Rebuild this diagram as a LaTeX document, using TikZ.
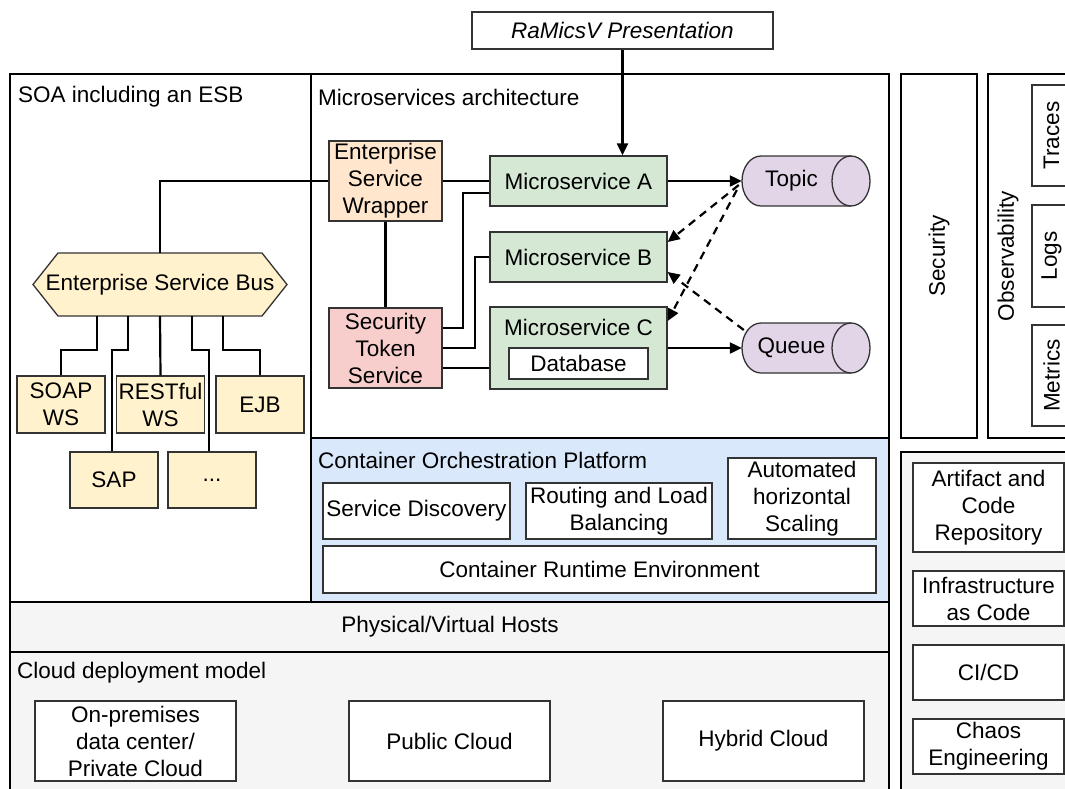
\documentclass[tikz,border=0pt]{standalone}
\usepackage{fontspec}
\setmainfont{Liberation Sans}
\usetikzlibrary{arrows.meta}

\definecolor{soaYellow}{HTML}{FFF2CC}
\definecolor{wrapOrange}{HTML}{FFE6CC}
\definecolor{stsRed}{HTML}{F8CECC}
\definecolor{msGreen}{HTML}{D5E8D4}
\definecolor{mqPurple}{HTML}{E1D5E7}
\definecolor{copBlue}{HTML}{DAE8FC}
\definecolor{layerGray}{HTML}{F5F5F5}

\begin{document}
\begin{tikzpicture}[x=1pt, y=-1pt, font=\fontsize{22.5}{27}\selectfont,
    layer/.style={line width=2pt, draw=black},
    lbl/.style={anchor=west, inner sep=0pt},
    item/.style={draw=black!80, line width=1.3pt, align=center, inner sep=1pt, fill=white},
    soaitem/.style={item, fill=soaYellow, minimum width=88pt, minimum height=57pt},
    msitem/.style={item, fill=msGreen, minimum width=177pt, minimum height=50pt},
    mqlbl/.style={inner sep=0pt, minimum width=99pt, minimum height=50pt},
    opsitem/.style={item, minimum width=151pt, minimum height=55pt},
    obsitem/.style={item, rotate=90, minimum width=101pt, minimum height=39pt},
    link/.style={line width=2.2pt},
    flow/.style={link, -{Triangle[length=12pt, width=11pt]}},
    event/.style={flow, dash pattern=on 8pt off 6pt}]
    \useasboundingbox (0,0) rectangle (1065,788);
    \clip (0,0) rectangle (1065,788);

    % =========================================================
    % LAYERS
    % =========================================================
    \draw[layer, fill=white] (10,74) rectangle (311,602);
    \draw[layer, fill=white] (311,74) rectangle (889,438);
    \draw[layer, fill=copBlue] (311,438) rectangle (889,602);
    \draw[layer, fill=layerGray] (10,602) rectangle (889,652);
    \draw[layer, fill=layerGray] (10,652) rectangle (889,800);
    \draw[layer, fill=white] (901,74) rectangle (977,438);
    \draw[layer, fill=white] (988,74) rectangle (1085,438);
    \draw[layer, fill=layerGray] (901,452) rectangle (1085,800);

    \node[lbl] (soalbl) at (18,97) {SOA including an ESB};
    \node[lbl] (mslbl) at (318,97) {Microservices architecture};
    \node[lbl] (coplbl) at (318,460) {Container Orchestration Platform};
    \node (hosts) at (450,627) {Physical/Virtual Hosts};
    \node[lbl] (cloudlbl) at (17,673) {Cloud deployment model};
    \node[rotate=90] (security) at (939,256) {Security};
    \node[rotate=90] (observ) at (1008,256) {Observability};

    % Presentation
    \node[item, minimum width=301pt, minimum height=37pt, font=\fontsize{22.5}{27}\selectfont\itshape] (title) at (622.5,30.5) {RaMicsV Presentation};

    % =========================================================
    % SOA
    % =========================================================
    \draw[item, fill=soaYellow] (33,284.5) -- (58,253) -- (262,253) -- (287,284.5) -- (262,316) -- (58,316) -- cycle;
    \node[inner sep=0pt, minimum width=254pt, minimum height=63pt] (esb) at (160,284.5) {Enterprise Service Bus};

    \node[soaitem] (soap) at (61,404.5) {SOAP\\WS};
    \node[soaitem] (rest) at (160.5,404.5) {RESTful\\WS};
    \node[soaitem] (ejb) at (260,404.5) {EJB};
    \node[soaitem, minimum height=56pt] (sap) at (114,480) {SAP};
    \node[soaitem, minimum height=56pt] (more) at (212,480) {...};

    \draw[link] ([xshift=-63pt]esb.south) -- ++(0,34) -| (soap.north);
    \draw[link] ([xshift=-32pt]esb.south) -- ++(0,34) -| ([xshift=-2pt]sap.north);
    \draw[link] (esb.south) -- (rest.north);
    \draw[link] ([xshift=32pt]esb.south) -- ++(0,34) -| ([xshift=-3pt]more.north);
    \draw[link] ([xshift=63pt]esb.south) -- ++(0,34) -| (ejb.north);

    % =========================================================
    % MICROSERVICES
    % =========================================================
    \node[item, fill=wrapOrange, minimum width=113pt, minimum height=80pt] (esw) at (385.5,181) {Enterprise\\Service\\Wrapper};
    \node[item, fill=stsRed, minimum width=113pt, minimum height=80pt] (sts) at (385.5,348) {Security\\Token\\Service};

    \node[msitem] (msa) at (578.5,181) {Microservice A};
    \node[msitem] (msb) at (578.5,257) {Microservice B};
    \node[msitem, minimum height=82pt] (msc) at (578.5,348) {};
    \node (msclbl) at (578.5,327) {Microservice C};
    \node[item, minimum width=139pt, minimum height=31pt] (db) at (578.5,363.5) {Database};

    % Topic / Queue cylinders
    \foreach \cy in {181, 348} {
        \begin{scope}[shift={(806,\cy)}]
            \draw[item, fill=mqPurple] (-45,-25) -- (45,-25) arc[start angle=-90, end angle=90, x radius=19, y radius=25]
                -- (-45,25) arc[start angle=90, end angle=270, x radius=19, y radius=25] -- cycle;
            \draw[item, fill=none] (45,-25) arc[start angle=270, end angle=90, x radius=19, y radius=25];
        \end{scope}
    }
    \node[mqlbl] (topic) at (791.5,181) {Topic};
    \node[mqlbl] (queue) at (791.5,348) {Queue};

    \draw[link] (esb.north) |- (esw.west);
    \draw[link] (esw.east) -- (msa.west);
    \draw[link] (esw.south) -- (sts.north);
    \draw[link] ([yshift=20pt]sts.east) -- ++(20,0) |- ([yshift=-12pt]msa.west);
    \draw[link] (sts.east) -- ++(32,0) |- (msb.west);
    \draw[link] ([yshift=-20pt]sts.east) -- ([yshift=-20pt]msc.west);

    \draw[flow] (title.south) -- (title.south |- msa.north);
    \draw[flow] (msa.east) -- (topic.west);
    \draw[flow] (msc.east) -- (queue.west);
    \draw[event] ([xshift=-3pt, yshift=-4pt]topic.west) -- ([yshift=15pt]msb.east);
    \draw[event] ([xshift=-5pt, yshift=-9pt]topic.west) -- ([yshift=27pt]msc.east);
    \draw[event] ([xshift=2pt, yshift=18pt]queue.west) -- ([yshift=-15pt]msb.east);

    % =========================================================
    % CONTAINER ORCHESTRATION
    % =========================================================
    \node[item, minimum width=187pt, minimum height=56pt] (sd) at (416.5,511) {Service Discovery};
    \node[item, minimum width=186pt, minimum height=56pt] (rlb) at (619,511) {Routing and Load\\Balancing};
    \node[item, minimum width=148pt, minimum height=81pt] (ahs) at (802,498.5) {Automated\\horizontal\\Scaling};
    \node[item, minimum width=553pt, minimum height=47pt] (cre) at (599.5,569.5) {Container Runtime Environment};

    % =========================================================
    % CLOUD
    % =========================================================
    \node[item, minimum width=201pt, minimum height=80pt] (onprem) at (135.5,741) {On-premises\\data center/\\Private Cloud};
    \node[item, minimum width=201pt, minimum height=80pt] (public) at (449.5,741) {Public Cloud};
    \node[item, minimum width=201pt, minimum height=80pt] (hybrid) at (763.5,741) {Hybrid Cloud};

    % =========================================================
    % OBSERVABILITY AND DEVOPS
    % =========================================================
    \node[obsitem] (traces) at (1051.5,135.5) {Traces};
    \node[obsitem, minimum width=102pt] (logs) at (1051.5,256) {Logs};
    \node[obsitem] (metrics) at (1051.5,375.5) {Metrics};

    \node[opsitem, minimum height=89pt] (acr) at (988.5,507.5) {Artifact and\\Code\\Repository};
    \node[opsitem] (iac) at (988.5,598.5) {Infrastructure\\as Code};
    \node[opsitem] (cicd) at (988.5,672.5) {CI/CD};
    \node[opsitem] (chaos) at (988.5,746.5) {Chaos\\Engineering};
\end{tikzpicture}
\end{document}
